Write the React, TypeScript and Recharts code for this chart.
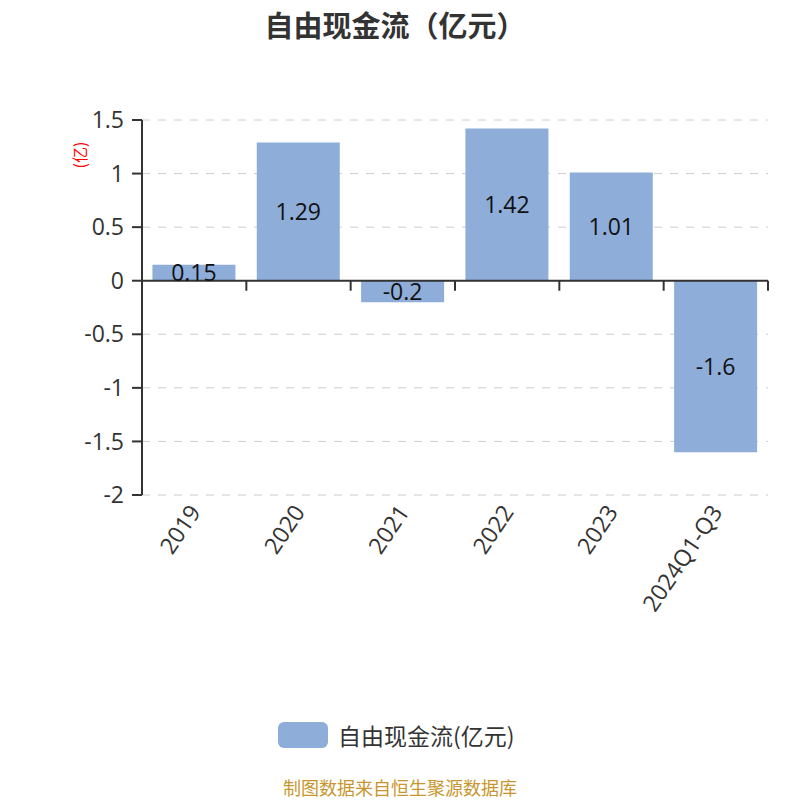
import React from "react";
import { BarChart, Bar, XAxis, YAxis, CartesianGrid, ReferenceLine, LabelList } from "recharts";

const categories = ["2019", "2020", "2021", "2022", "2023", "2024Q1-Q3"];
const values = [0.15, 1.29, -0.2, 1.42, 1.01, -1.6];
const yTicks = [-2, -1.5, -1, -0.5, 0, 0.5, 1, 1.5];
const seriesName = "自由现金流(亿元)";
const title = "自由现金流（亿元）";
const unitLabel = "(亿)";
const footer = "制图数据来自恒生聚源数据库";

const data = categories.map((c, i) => ({ name: c, value: values[i] }));

const FONT = "'Open Sans', 'Noto Sans CJK SC', sans-serif";
const CJK = "'Noto Sans CJK SC', 'Noto Sans', sans-serif";
const BAR = "#8eadd9";

const XTick = (props: any) => {
  const { x, y, payload } = props;
  return (
    <text
      x={x}
      y={y}
      transform={`rotate(-56, ${x}, ${y})`}
      textAnchor="end"
      dominantBaseline="central"
      fontSize={23}
      fill="#333"
      fontFamily={FONT}
    >
      {payload.value}
    </text>
  );
};

const ZeroLine = (props: any) => {
  const { x1, x2, y1 } = props;
  const n = categories.length;
  const step = (x2 - x1) / n;
  const ticks = [];
  for (let i = 1; i <= n; i++) {
    const tx = x1 + step * i;
    ticks.push(<line key={i} x1={tx} x2={tx} y1={y1} y2={y1 + 10} stroke="#333" strokeWidth={2} />);
  }
  return (
    <g>
      <line x1={x1} x2={x2} y1={y1} y2={y1} stroke="#333" strokeWidth={2} />
      {ticks}
    </g>
  );
};

export default function App() {
  return (
    <div style={{ position: "absolute", left: 0, top: 0, width: 800, height: 800, background: "#fff", fontFamily: CJK, overflow: "hidden" }}>
      <div style={{ position: "absolute", left: 0, top: 2, width: 790, textAlign: "center", fontSize: 29, lineHeight: "44px", fontWeight: "bold", color: "#333" }}>
        {title}
      </div>
      <div
        style={{
          position: "absolute",
          left: 59,
          top: 143,
          width: 40,
          height: 24,
          color: "red",
          fontSize: 16,
          lineHeight: "24px",
          textAlign: "center",
          transform: "rotate(-90deg)",
          whiteSpace: "nowrap",
        }}
      >
        {unitLabel}
      </div>
      <BarChart
        width={800}
        height={800}
        data={data}
        margin={{ top: 120, right: 32, left: 0, bottom: 295 }}
        barCategoryGap="10%"
      >
        <CartesianGrid vertical={false} stroke="#ccc" strokeDasharray="8 8" />
        <XAxis
          dataKey="name"
          axisLine={false}
          tickLine={false}
          tickSize={0}
          tickMargin={12}
          interval={0}
          tick={<XTick />}
          height={10}
        />
        <YAxis
          width={142}
          domain={[-2, 1.5]}
          ticks={yTicks}
          interval={0}
          axisLine={{ stroke: "#333", strokeWidth: 2 }}
          tickLine={{ stroke: "#333", strokeWidth: 2 }}
          tickSize={10}
          tickMargin={8}
          tick={{ fontSize: 23, fill: "#333", fontFamily: FONT }}
          allowDataOverflow
        />
        <ReferenceLine y={0} shape={<ZeroLine />} />
        <Bar dataKey="value" name={seriesName} fill={BAR} isAnimationActive={false}>
          <LabelList dataKey="value" position="center" fontSize={23} fill="#111" fontFamily={FONT} />
        </Bar>
      </BarChart>
      <div style={{ position: "absolute", left: 278, top: 722, display: "flex", alignItems: "center", height: 26 }}>
        <div style={{ width: 50, height: 26, borderRadius: 6, background: BAR, marginRight: 10 }} />
        <span style={{ fontSize: 23, color: "#333", whiteSpace: "nowrap", lineHeight: "26px" }}>{seriesName}</span>
      </div>
      <div style={{ position: "absolute", left: 0, top: 775, width: 800, textAlign: "center", fontSize: 18, lineHeight: "24px", color: "#c8962e" }}>
        {footer}
      </div>
    </div>
  );
}
